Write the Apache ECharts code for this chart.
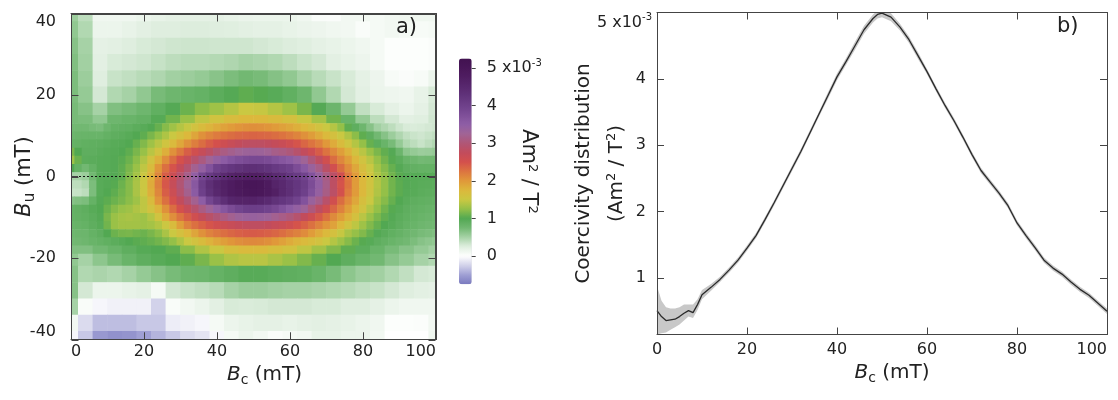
<!DOCTYPE html>
<html><head><meta charset="utf-8">
<script src="https://cdn.jsdelivr.net/npm/echarts@6/dist/echarts.min.js"></script>
<style>html,body{margin:0;padding:0;background:#fff}#c{width:1118px;height:400px}</style>
</head><body><div id="c"></div>
<script>
// ---- left panel: FORC-like map (values in 1e-3 Am^2/T^2)
// outer rows use the 4 mT column grid, core rows use the 2 mT column grid
const bcGrid = [0,4,8,12,16,20,24,28,32,36,40,44,48,52,56,60,64,68,72,76,80,84,88,92,96,100];
const bcFine = [0,2,4,6,8,10,12,14,16,18,20,22,24,26,28,30,32,34,36,38,40,42,44,46,48,50,52,54,56,58,60,62,64,66,68,70,72,74,76,78,80,82,84,86,88,90,92,94,96,98,100];
const buGrid = [40,36,32,28,24,20,16,14,12,10,8,6,4,2,0,-2,-4,-6,-8,-10,-12,-14,-16,-18,-20,-24,-28,-32,-36,-40];
const bu40  = [0.55,0.4,0.12,0.12,0.12,0.15,0.18,0.2,0.2,0.2,0.2,0.18,0.16,0.15,0.15,0.15,0.12,0.05,0.04,0.1,0.1,0.08,0.1,0.12,0.12,0.12];
const bu36  = [0.6,0.45,0.15,0.15,0.18,0.22,0.25,0.25,0.26,0.26,0.25,0.24,0.22,0.2,0.2,0.18,0.16,0.14,0.12,0.1,0.05,0.08,0.1,0.08,0.06,0.08];
const bu32  = [0.65,0.5,0.2,0.22,0.25,0.28,0.3,0.32,0.33,0.33,0.32,0.32,0.32,0.3,0.28,0.26,0.24,0.2,0.18,0.15,0.12,0.08,0.02,0.02,0.02,0.04];
const bu28  = [0.68,0.52,0.22,0.28,0.3,0.32,0.36,0.4,0.42,0.42,0.44,0.46,0.5,0.48,0.45,0.4,0.34,0.3,0.22,0.18,0.14,0.08,0.02,0.02,0.02,0.04];
const bu24  = [0.7,0.55,0.25,0.35,0.38,0.42,0.46,0.52,0.55,0.58,0.64,0.7,0.75,0.72,0.66,0.6,0.5,0.42,0.35,0.28,0.2,0.14,0.06,0.04,0.06,0.15];
const bu20  = [0.7,0.58,0.3,0.45,0.5,0.6,0.72,0.78,0.82,0.85,0.92,0.98,1.05,1.02,0.95,0.88,0.78,0.6,0.45,0.3,0.22,0.15,0.13,0.12,0.18,0.28];
const bu16  = [0.72,0.65,0.5,0.68,0.72,0.78,0.88,0.98,1.1,1.22,1.3,1.4,1.5,1.48,1.4,1.3,1.15,0.98,0.8,0.58,0.38,0.28,0.2,0.15,0.2,0.3];
const bu14  = [0.72,0.7,0.6,0.78,0.82,0.86,0.97,1.12,1.28,1.45,1.58,1.68,1.75,1.75,1.7,1.62,1.48,1.33,1.12,0.82,0.58,0.4,0.3,0.22,0.24,0.31];
const bu12  = [0.75,0.75,0.75,0.72,0.7,0.78,0.85,0.87,0.88,0.92,0.95,1.0,1.08,1.2,1.3,1.4,1.48,1.6,1.7,1.78,1.85,1.92,1.98,2.02,2.05,2.06,2.05,2.02,1.98,1.93,1.88,1.82,1.75,1.68,1.6,1.5,1.4,1.25,1.05,0.9,0.78,0.65,0.52,0.46,0.4,0.33,0.28,0.27,0.28,0.3,0.32];
const bu10  = [0.8,0.81,0.82,0.82,0.82,0.86,0.9,0.92,0.95,1.0,1.05,1.15,1.25,1.37,1.5,1.62,1.75,1.9,2.05,2.13,2.2,2.26,2.3,2.33,2.35,2.36,2.35,2.33,2.3,2.26,2.2,2.14,2.05,1.96,1.85,1.74,1.62,1.5,1.38,1.22,1.05,0.9,0.75,0.65,0.55,0.46,0.38,0.34,0.32,0.35,0.38];
const bu8   = [0.85,0.86,0.88,0.89,0.9,0.92,0.95,0.97,1.0,1.08,1.18,1.3,1.42,1.57,1.72,1.88,2.05,2.18,2.3,2.42,2.5,2.6,2.68,2.75,2.8,2.82,2.82,2.78,2.72,2.66,2.58,2.47,2.35,2.25,2.15,2.0,1.85,1.7,1.55,1.4,1.25,1.08,0.92,0.82,0.72,0.58,0.45,0.4,0.35,0.4,0.45];
const bu6   = [1.15,1.0,0.9,0.9,0.93,0.95,0.97,1.0,1.05,1.15,1.27,1.42,1.6,1.82,2.05,2.22,2.4,2.55,2.7,2.85,3.0,3.1,3.18,3.25,3.3,3.32,3.3,3.24,3.15,3.1,3.03,2.9,2.75,2.6,2.42,2.26,2.1,1.95,1.8,1.6,1.42,1.28,1.16,1.06,0.98,0.8,0.62,0.58,0.55,0.56,0.58];
const bu4   = [1.3,1.1,0.92,0.93,0.95,0.96,0.98,1.03,1.1,1.22,1.38,1.6,1.82,2.07,2.3,2.5,2.7,2.9,3.08,3.25,3.4,3.53,3.65,3.75,3.82,3.85,3.85,3.8,3.7,3.63,3.55,3.42,3.25,3.03,2.8,2.55,2.3,2.12,1.95,1.76,1.58,1.42,1.26,1.13,1.02,0.92,0.82,0.78,0.74,0.75,0.76];
const bu2   = [1.0,0.85,0.75,0.85,0.95,0.96,0.98,1.05,1.15,1.28,1.45,1.7,2.02,2.28,2.48,2.72,2.96,3.2,3.42,3.68,3.98,4.1,4.2,4.28,4.35,4.35,4.32,4.25,4.15,4.07,3.98,3.78,3.58,3.35,3.13,2.85,2.54,2.3,2.08,1.88,1.67,1.5,1.33,1.2,1.08,0.98,0.9,0.87,0.85,0.85,0.86];
const bu0   = [0.5,0.5,0.55,0.75,0.95,0.96,0.98,1.05,1.18,1.33,1.52,1.8,2.12,2.4,2.63,2.92,3.16,3.45,3.9,4.12,4.29,4.45,4.6,4.68,4.72,4.73,4.7,4.6,4.45,4.38,4.2,4.1,3.95,3.68,3.38,3.1,2.85,2.55,2.2,1.98,1.75,1.57,1.38,1.25,1.12,1.03,0.97,0.96,0.95,0.95,0.95];
const buM2  = [0.4,0.4,0.45,0.7,0.95,0.98,1.02,1.1,1.2,1.35,1.52,1.85,2.17,2.45,2.7,2.98,3.25,3.6,4.05,4.35,4.55,4.68,4.8,4.92,5.0,5.0,4.98,4.85,4.6,4.48,4.34,4.2,4.05,3.78,3.45,3.15,2.82,2.48,2.25,1.98,1.75,1.58,1.4,1.26,1.12,1.04,0.98,0.96,0.94,0.93,0.92];
const buM4  = [0.35,0.36,0.4,0.7,0.95,1.0,1.05,1.12,1.2,1.35,1.52,1.82,2.12,2.4,2.63,2.92,3.18,3.55,4.0,4.3,4.5,4.66,4.8,4.88,4.95,4.97,4.95,4.85,4.7,4.48,4.35,4.18,4.0,3.72,3.4,3.12,2.85,2.52,2.2,1.98,1.75,1.56,1.38,1.25,1.12,1.04,0.97,0.95,0.92,0.91,0.9];
const buM6  = [0.65,0.68,0.7,0.85,0.98,1.04,1.1,1.15,1.22,1.3,1.45,1.7,2.03,2.28,2.5,2.75,2.98,3.2,3.51,3.9,4.14,4.35,4.55,4.6,4.6,4.62,4.55,4.45,4.3,4.2,4.1,3.95,3.68,3.35,3.15,2.88,2.55,2.3,2.08,1.88,1.65,1.5,1.32,1.2,1.08,1.0,0.94,0.9,0.88,0.87,0.86];
const buM8  = [0.85,0.87,0.9,0.95,1.0,1.1,1.2,1.27,1.3,1.38,1.45,1.6,1.78,2.05,2.3,2.5,2.7,2.9,3.1,3.28,3.45,3.62,3.8,3.93,4.02,4.04,4.02,3.95,3.85,3.7,3.55,3.42,3.28,3.05,2.8,2.57,2.35,2.15,1.95,1.76,1.58,1.4,1.25,1.12,1.02,0.95,0.9,0.87,0.85,0.83,0.82];
const buM10 = [0.85,0.86,0.88,0.92,0.98,1.15,1.28,1.33,1.35,1.33,1.3,1.4,1.58,1.85,2.07,2.25,2.4,2.57,2.72,2.87,3.0,3.1,3.2,3.3,3.35,3.37,3.35,3.3,3.2,3.13,3.05,2.92,2.75,2.6,2.43,2.27,2.1,1.95,1.8,1.62,1.42,1.28,1.16,1.06,0.98,0.92,0.88,0.85,0.82,0.8,0.78];
const buM12 = [0.82,0.83,0.85,0.9,0.95,1.12,1.28,1.32,1.32,1.32,1.3,1.33,1.4,1.52,1.7,1.95,2.15,2.28,2.38,2.47,2.55,2.62,2.68,2.74,2.78,2.8,2.8,2.76,2.7,2.65,2.58,2.48,2.38,2.27,2.15,2.03,1.92,1.75,1.58,1.44,1.3,1.18,1.08,1.0,0.95,0.9,0.85,0.82,0.78,0.76,0.75];
const buM14 = [0.78,0.79,0.8,0.85,0.9,1.0,1.1,1.14,1.15,1.12,1.1,1.15,1.22,1.35,1.5,1.62,1.75,1.9,2.05,2.15,2.22,2.29,2.35,2.39,2.42,2.43,2.42,2.39,2.35,2.29,2.22,2.16,2.08,1.97,1.85,1.74,1.62,1.48,1.35,1.26,1.18,1.08,0.98,0.93,0.88,0.84,0.8,0.76,0.72,0.7,0.68];
const buM16 = [0.75,0.76,0.78,0.82,0.85,0.88,0.92,0.96,1.0,1.03,1.05,1.08,1.12,1.18,1.25,1.37,1.5,1.6,1.7,1.8,1.88,1.95,2.02,2.07,2.1,2.11,2.1,2.06,2.0,1.93,1.85,1.78,1.72,1.66,1.6,1.5,1.4,1.3,1.2,1.1,1.02,0.96,0.9,0.86,0.82,0.78,0.75,0.7,0.65,0.62,0.6];
const buM18 = [0.68,0.68,0.75,0.82,0.9,0.97,1.0,1.05,1.22,1.38,1.52,1.65,1.72,1.72,1.65,1.6,1.45,1.32,1.18,1.05,0.92,0.82,0.72,0.65,0.58,0.52];
const buM20 = [0.6,0.5,0.62,0.72,0.82,0.9,0.95,1.0,1.05,1.15,1.28,1.38,1.42,1.42,1.35,1.28,1.18,1.08,1.0,0.9,0.82,0.75,0.65,0.58,0.5,0.45];
const buM24 = [0.65,0.45,0.48,0.45,0.5,0.58,0.65,0.72,0.78,0.8,0.85,0.9,0.95,0.95,0.92,0.9,0.88,0.82,0.72,0.62,0.55,0.52,0.45,0.38,0.3,0.28];
const buM28 = [0.65,0.3,0.15,0.15,0.18,0.2,0.08,0.3,0.35,0.38,0.42,0.5,0.55,0.55,0.52,0.5,0.5,0.48,0.45,0.42,0.38,0.35,0.3,0.25,0.22,0.2];
const buM32 = [0.5,0.05,-0.05,-0.08,-0.08,-0.08,-0.25,0.05,0.1,0.15,0.22,0.28,0.27,0.28,0.3,0.3,0.3,0.28,0.28,0.25,0.25,0.2,0.15,0.12,0.12,0.12];
const buM36 = [0.1,-0.2,-0.35,-0.35,-0.35,-0.3,-0.3,-0.1,-0.08,-0.05,0.08,0.15,0.18,0.2,0.2,0.18,0.2,0.22,0.2,0.18,0.15,0.12,0.02,0.02,0.03,0.1];
const buM40 = [-0.05,-0.3,-0.55,-0.6,-0.58,-0.5,-0.4,-0.3,-0.2,-0.15,-0.05,0.08,0.15,0.1,0.05,0.08,0.1,0.18,0.18,0.15,0.15,0.1,0.0,0.0,0.0,0.12];
const heatRows = [bu40,bu36,bu32,bu28,bu24,bu20,bu16,bu14,bu12,bu10,bu8,bu6,bu4,bu2,bu0,buM2,buM4,buM6,buM8,buM10,buM12,buM14,buM16,buM18,buM20,buM24,buM28,buM32,buM36,buM40];
const zeroLine = [[0,0],[100,0]];

// ---- right panel: coercivity distribution with uncertainty band
const bcCurve    = [0,1,2,3,4,5,6,7,8,9,10,12,14,16,18,20,22,24,26,28,30,32,34,36,38,40,42,44,46,48,49,50,52,54,56,58,60,62,64,66,68,70,72,74,76,78,80,82,84,86,88,90,92,94,96,98,100];
const coercivity = [0.51,0.42,0.36,0.37,0.38,0.42,0.47,0.51,0.48,0.6,0.75,0.86,0.98,1.12,1.27,1.45,1.64,1.88,2.13,2.39,2.65,2.91,3.19,3.47,3.75,4.03,4.26,4.5,4.74,4.91,4.97,4.99,4.93,4.78,4.59,4.35,4.11,3.85,3.6,3.37,3.12,2.86,2.62,2.45,2.28,2.09,1.83,1.64,1.46,1.27,1.15,1.06,0.94,0.83,0.74,0.62,0.5];
const bandUpper  = [0.88,0.66,0.56,0.54,0.54,0.56,0.6,0.6,0.6,0.68,0.82,0.91,1.02,1.16,1.31,1.49,1.68,1.92,2.17,2.43,2.69,2.95,3.23,3.51,3.8,4.08,4.31,4.56,4.8,4.97,5.03,5.05,4.99,4.83,4.64,4.4,4.15,3.89,3.64,3.41,3.16,2.9,2.66,2.49,2.32,2.13,1.87,1.68,1.5,1.31,1.19,1.1,0.98,0.87,0.78,0.66,0.54];
const bandLower  = [0.15,0.17,0.18,0.22,0.26,0.3,0.36,0.42,0.4,0.52,0.68,0.81,0.94,1.08,1.23,1.41,1.6,1.84,2.09,2.35,2.61,2.87,3.15,3.43,3.7,3.98,4.21,4.44,4.68,4.85,4.91,4.93,4.87,4.73,4.54,4.3,4.07,3.81,3.56,3.33,3.08,2.82,2.58,2.41,2.24,2.05,1.79,1.6,1.42,1.23,1.11,1.02,0.9,0.79,0.7,0.58,0.46];

// ---- axis ranges, ticks and colour scale
const bcRange = [0, 100];
const buRange = [-40, 40];
const bcTicks = [0,20,40,60,80,100];
const buTicks = [-40,-20,0,20,40];
const cdTicks = [1,2,3,4,5];
const cbTicks = [0,1,2,3,4,5];
const cbColors = ['#7a7abf','#a0a0d4','#d2d2ea','#ffffff','#dfeedf','#a6d2a6','#72b872','#52a852','#94c048','#cac842','#dcb83c','#e0983a','#dc7440','#d4504c','#c24c5c','#b05676','#a06496','#8e5ea6','#7e4e98','#6e408a','#62347c','#58286e','#501e62','#481658','#421250'];

// cell extents: half-way to neighbouring grid lines
function edges(g) {
  return g.map((v, i) => {
    const prev = i > 0 ? g[i - 1] : v + (v - g[i + 1]);
    const next = i < g.length - 1 ? g[i + 1] : v - (g[i - 1] - v);
    return [(prev + v) / 2, (v + next) / 2];
  });
}
const buEdges = edges(buGrid);
const coarseEdges = edges(bcGrid);
const fineEdges = edges(bcFine);
const heatData = [];
heatRows.forEach((row, i) => {
  const fine = row.length === bcFine.length;
  const cols = fine ? bcFine : bcGrid;
  const ce = fine ? fineEdges : coarseEdges;
  row.forEach((v, j) => heatData.push([cols[j], buGrid[i], v, ce[j][0], ce[j][1], buEdges[i][0], buEdges[i][1]]));
});

const FONT = 'DejaVu Sans';
const axisCol = '#444';
const txt = '#222';
const TICK = 7;
function frameAxis(extra) {
  return Object.assign({
    type: 'value', z: 10, nameMoveOverlap: false,
    axisLine: {show: true, onZero: false, lineStyle: {color: axisCol, width: 1}},
    axisTick: {show: true, inside: true, length: TICK, lineStyle: {color: axisCol, width: 1}},
    splitLine: {show: false},
    axisLabel: {show: false}
  }, extra);
}
const labelRich = {
  n: {fontFamily: FONT, fontSize: 16, color: txt, lineHeight: 20},
  r: {fontFamily: FONT, fontSize: 16, color: txt, lineHeight: 20, padding: [0, 6, 0, 0]},
  s: {fontFamily: FONT, fontSize: 10, color: txt, lineHeight: 11, verticalAlign: 'top'}
};
const titleStyle = (extra) => Object.assign({
  fontFamily: FONT, fontSize: 20, color: txt, lineHeight: 26,
  rich: {
    i: {fontFamily: FONT, fontSize: 20, fontStyle: 'italic', color: txt, lineHeight: 26},
    sub: {fontFamily: FONT, fontSize: 14, color: txt, lineHeight: 14, verticalAlign: 'bottom'},
    sup: {fontFamily: FONT, fontSize: 13, color: txt, lineHeight: 13, verticalAlign: 'top', padding: [3, 0, 0, 0]}
  }
}, extra);

const chart = echarts.init(document.getElementById('c'), null, {renderer: 'canvas'});
chart.setOption({
  animation: false,
  backgroundColor: '#fff',
  grid: [
    {left: 71, top: 13.5, width: 365, height: 326},
    {left: 657, top: 12.5, width: 450, height: 322},
    {left: 459, top: 58.6, width: 12.7, height: 225.6}
  ],
  visualMap: {
    type: 'continuous', min: -0.75, max: 5.25, dimension: 2, seriesIndex: 0,
    inRange: {color: cbColors}, calculable: false, hoverLink: false,
    itemWidth: 12.7, itemHeight: 225.6, left: 459, top: 58.6, padding: 0, text: null
  },
  xAxis: [
    frameAxis({gridIndex: 0, min: bcRange[0], max: bcRange[1], interval: 20, position: 'bottom',
      axisLabel: {show: true, margin: 4, fontFamily: FONT, fontSize: 16, color: txt, alignMinLabel: 'left', alignMaxLabel: 'right'},
      name: '{i|B}{sub|c} (mT)', nameLocation: 'middle', nameGap: 22,
      nameTextStyle: titleStyle({padding: [0, 0, 0, 22]})}),
    frameAxis({gridIndex: 0, min: bcRange[0], max: bcRange[1], interval: 20, position: 'top'}),
    frameAxis({gridIndex: 1, min: 0, max: 100, interval: 20, position: 'bottom',
      axisLabel: {show: true, margin: 7, fontFamily: FONT, fontSize: 16, color: txt, alignMaxLabel: 'right'},
      name: '{i|B}{sub|c} (mT)', nameLocation: 'middle', nameGap: 25,
      nameTextStyle: titleStyle({padding: [0, 0, 0, 20]})}),
    frameAxis({gridIndex: 1, min: 0, max: 100, interval: 20, position: 'top'}),
    {gridIndex: 2, type: 'value', min: 0, max: 1, show: false}
  ],
  yAxis: [
    frameAxis({gridIndex: 0, min: buRange[0], max: buRange[1], interval: 20, position: 'left',
      axisLabel: {show: true, margin: 15, fontFamily: FONT, fontSize: 16, color: txt, verticalAlignMinLabel: 'bottom', verticalAlignMaxLabel: 'top'},
      name: '{i|B}{sub|u} (mT)', nameLocation: 'middle', nameGap: 33,
      nameTextStyle: titleStyle({fontSize: 21, rich: {
        i: {fontFamily: FONT, fontSize: 21, fontStyle: 'italic', color: txt, lineHeight: 26},
        sub: {fontFamily: FONT, fontSize: 15, color: txt, lineHeight: 15, verticalAlign: 'bottom'}}})}),
    frameAxis({gridIndex: 0, min: buRange[0], max: buRange[1], interval: 20, position: 'right'}),
    frameAxis({gridIndex: 1, min: 0.15, max: 5, position: 'left',
      axisTick: {show: true, inside: true, length: TICK, customValues: cdTicks, lineStyle: {color: axisCol}},
      axisLabel: {show: true, margin: 5, customValues: cdTicks, verticalAlignMaxLabel: 'top',
        formatter: v => v === 5 ? '{n|5 x10}{s|-3}' : '{r|' + v + '}', rich: labelRich},
      name: 'Coercivity distribution\n(Am{sup|2} / T{sup|2})', nameLocation: 'middle', nameGap: 24,
      nameTextStyle: titleStyle({lineHeight: 33, rich: {
        sup: {fontFamily: FONT, fontSize: 13, color: txt, lineHeight: 13, verticalAlign: 'top', padding: [5, 0, 0, 0]}}})}),
    frameAxis({gridIndex: 1, min: 0.15, max: 5, position: 'right',
      axisTick: {show: true, inside: true, length: TICK, customValues: cdTicks, lineStyle: {color: axisCol}}}),
    {gridIndex: 2, type: 'value', min: -0.75, max: 5.25, position: 'right', z: 10, nameMoveOverlap: false,
      axisLine: {show: false, onZero: false}, splitLine: {show: false},
      axisTick: {show: true, inside: false, length: 4, customValues: cbTicks, lineStyle: {color: axisCol}},
      axisLabel: {show: true, margin: 15, customValues: cbTicks,
        formatter: v => v === 5 ? '{n|5 x10}{s|-3}' : '{n|' + v + '}', rich: labelRich},
      name: 'Am{sup|2} / T{sup|2}', nameLocation: 'middle', nameRotate: -90, nameGap: 44,
      nameTextStyle: titleStyle({fontSize: 21})}
  ],
  graphic: [
    {type: 'text', left: 396, top: 17, z: 30, style: {text: 'a)', font: '21px "DejaVu Sans"', fill: txt}},
    {type: 'text', left: 1057, top: 16, z: 30, style: {text: 'b)', font: '21px "DejaVu Sans"', fill: txt}}
  ],
  series: [
    {
      type: 'custom', xAxisIndex: 0, yAxisIndex: 0, clip: true, silent: true, z: 1, progressive: 0,
      encode: {x: 0, y: 1}, data: heatData,
      renderItem: function (params, api) {
        const p0 = api.coord([api.value(3), api.value(5)]);
        const p1 = api.coord([api.value(4), api.value(6)]);
        return {type: 'rect',
          shape: {x: p0[0] - 0.3, y: p0[1] - 0.3, width: p1[0] - p0[0] + 0.6, height: p1[1] - p0[1] + 0.6},
          style: {fill: api.visual('color')}};
      }
    },
    {
      type: 'line', xAxisIndex: 0, yAxisIndex: 0, data: zeroLine, symbol: 'none', silent: true, z: 4,
      lineStyle: {color: '#111', width: 1.2, type: [2, 2]}
    },
    {
      // plot frame with inward ticks on all four sides of the map, drawn above the cells
      type: 'custom', xAxisIndex: 0, yAxisIndex: 0, clip: false, silent: true, z: 20, data: [[50, 0]],
      renderItem: function (params, api) {
        const bl = api.coord([bcRange[0], buRange[0]]);
        const tr = api.coord([bcRange[1], buRange[1]]);
        const x0 = Math.round(bl[0]) + 0.5, x1 = Math.round(tr[0]) - 0.5;
        const y0 = Math.round(tr[1]) + 0.5, y1 = Math.round(bl[1]) - 0.5;
        const st = {stroke: axisCol, lineWidth: 1, fill: null};
        const kids = [{type: 'rect', shape: {x: x0, y: y0, width: x1 - x0, height: y1 - y0}, style: {stroke: axisCol, lineWidth: 1, fill: 'none'}}];
        bcTicks.forEach(t => {
          const x = Math.round(api.coord([t, 0])[0]) + 0.5;
          kids.push({type: 'line', shape: {x1: x, y1: y1, x2: x, y2: y1 - TICK}, style: st});
          kids.push({type: 'line', shape: {x1: x, y1: y0, x2: x, y2: y0 + TICK}, style: st});
        });
        buTicks.forEach(t => {
          const y = Math.round(api.coord([0, t])[1]) + 0.5;
          kids.push({type: 'line', shape: {x1: x0, y1: y, x2: x0 + TICK, y2: y}, style: st});
          kids.push({type: 'line', shape: {x1: x1, y1: y, x2: x1 - TICK, y2: y}, style: st});
        });
        return {type: 'group', children: kids};
      }
    },
    {
      type: 'custom', xAxisIndex: 2, yAxisIndex: 2, clip: true, silent: true, data: [[50, 2]],
      renderItem: function (params, api) {
        const pts = [];
        for (let i = 0; i < bcCurve.length; i++) pts.push(api.coord([bcCurve[i], bandUpper[i]]));
        for (let i = bcCurve.length - 1; i >= 0; i--) pts.push(api.coord([bcCurve[i], bandLower[i]]));
        return {type: 'polygon', shape: {points: pts}, style: {fill: '#c8c8c8'}};
      }
    },
    {
      type: 'line', xAxisIndex: 2, yAxisIndex: 2, symbol: 'none', silent: true, z: 4,
      data: bcCurve.map((b, i) => [b, coercivity[i]]),
      lineStyle: {color: '#2a2a2a', width: 1.3}
    }
  ]
});
</script></body></html>
